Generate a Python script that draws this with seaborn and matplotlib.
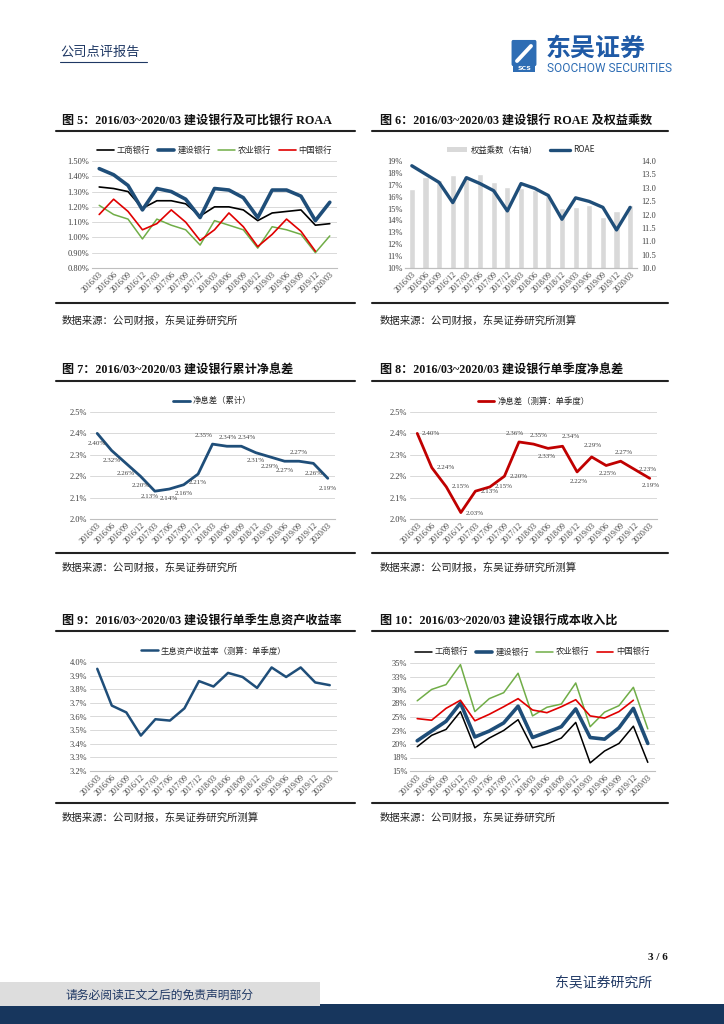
import numpy as np
import pandas as pd
import seaborn as sns
import matplotlib.pyplot as plt
from matplotlib.lines import Line2D
from matplotlib.patches import Rectangle, FancyBboxPatch

# ---- datos ----
quarters = ['2016/03', '2016/06', '2016/09', '2016/12', '2017/03', '2017/06', '2017/09', '2017/12',
            '2018/03', '2018/06', '2018/09', '2018/12', '2019/03', '2019/06', '2019/09', '2019/12', '2020/03']

# Fig 5: ROAA (%)
roaa_icbc = [1.33, 1.32, 1.30, 1.19, 1.24, 1.24, 1.22, 1.14, 1.20, 1.20, 1.18, 1.11, 1.16, 1.17, 1.18, 1.08, 1.09]
roaa_ccb = [1.45, 1.41, 1.34, 1.18, 1.32, 1.30, 1.25, 1.13, 1.32, 1.31, 1.26, 1.13, 1.31, 1.31, 1.27, 1.11, 1.23]
roaa_abc = [1.21, 1.15, 1.12, 0.99, 1.12, 1.08, 1.05, 0.95, 1.11, 1.08, 1.05, 0.93, 1.07, 1.05, 1.02, 0.90, 1.01]
roaa_boc = [1.15, 1.25, 1.17, 1.05, 1.09, 1.18, 1.10, 0.98, 1.05, 1.16, 1.07, 0.94, 1.02, 1.12, 1.04, 0.91, np.nan]

# Fig 6: ROAE (%) y multiplicador de capital (eje derecho)
roae = [18.6, 17.9, 17.2, 15.5, 17.6, 17.1, 16.5, 14.8, 17.1, 16.7, 16.1, 14.1, 15.9, 15.6, 15.1, 13.2, 15.1]
eq_mult = [12.95, 13.40, 13.30, 13.47, 13.45, 13.50, 13.20, 13.02, 13.00, 12.90, 12.70, 12.23, 12.27, 12.34, 11.92, 12.14, 12.34]

# Fig 7: margen neto acumulado (%)
nim_cum = [2.40, 2.32, 2.26, 2.20, 2.13, 2.14, 2.16, 2.21, 2.35, 2.34, 2.34, 2.31, 2.29, 2.27, 2.27, 2.26, 2.19]

# Fig 8: margen neto trimestral (%)
nim_q = [2.40, 2.24, 2.15, 2.03, 2.13, 2.15, 2.20, 2.36, 2.35, 2.33, 2.34, 2.22, 2.29, 2.25, 2.27, 2.23, 2.19]

# Fig 9: rendimiento de activos (%)
yield_q = [3.95, 3.68, 3.63, 3.46, 3.58, 3.57, 3.66, 3.86, 3.82, 3.92, 3.89, 3.81, 3.96, 3.89, 3.96, 3.85, 3.83]

# Fig 10: ratio costo/ingreso (%)
ci_icbc = [19.5, 21.6, 22.7, 26.0, 19.3, 21.1, 22.5, 24.5, 19.3, 20.0, 21.1, 24.0, 16.5, 18.7, 20.1, 23.3, 16.6]
ci_ccb = [20.6, 22.4, 24.2, 27.6, 21.3, 22.4, 23.9, 27.0, 21.2, 22.2, 23.2, 26.5, 21.2, 20.9, 23.0, 26.6, 20.1]
ci_abc = [28.0, 30.1, 31.0, 34.7, 26.0, 28.4, 29.5, 33.1, 25.2, 26.8, 27.4, 31.3, 23.2, 25.9, 27.1, 30.5, 22.8]
ci_boc = [24.7, 24.4, 26.6, 28.1, 24.3, 25.5, 26.9, 28.4, 26.3, 25.8, 26.9, 28.2, 25.2, 24.8, 26.0, 28.1, np.nan]
ci_ticks = [15, 17.5, 20, 22.5, 25, 27.5, 30, 32.5, 35]
ci_tick_labels = ['15%', '18%', '20%', '23%', '25%', '28%', '30%', '33%', '35%']

W, H = 724, 1024
NAVY = '#1F4E79'
GRID = '#D9D9D9'
SERIF = ['Liberation Serif', 'Noto Sans CJK SC']
SANS = ['Noto Sans CJK SC', 'DejaVu Sans']

sns.set_theme(style='white')
plt.rcParams['font.family'] = SERIF
plt.rcParams['axes.unicode_minus'] = False

fig = plt.figure(figsize=(W / 100, H / 100), dpi=100)
x = np.arange(len(quarters))


def caja(x0, y0, x1, y1):
    return [x0 / W, 1 - y1 / H, (x1 - x0) / W, (y1 - y0) / H]


def texto(px, py, s, **kw):
    fig.text(px / W, 1 - py / H, s, **kw)


def linea(x0, x1, y, color='#222222', lw=1.5):
    fig.add_artist(Line2D([x0 / W, x1 / W], [1 - y / H, 1 - y / H], transform=fig.transFigure,
                          color=color, lw=lw))


def preparar(ax, ylim, ticks, labels):
    ax.set_xlim(-0.5, len(quarters) - 0.5)
    ax.set_ylim(*ylim)
    ax.set_yticks(ticks)
    ax.set_yticklabels(labels, fontsize=6, color='#404040', family=SERIF)
    ax.set_xticks(x)
    ax.set_xticklabels(quarters, rotation=45, ha='right', rotation_mode='anchor',
                       fontsize=5.8, color='#404040', family=SERIF)
    ax.tick_params(axis='both', length=0, pad=2)
    for s in ['left', 'right', 'top']:
        ax.spines[s].set_visible(False)
    ax.spines['bottom'].set_color('#BFBFBF')
    ax.spines['bottom'].set_linewidth(0.8)
    ax.yaxis.grid(True, color=GRID, lw=0.7)
    ax.set_axisbelow(True)
    ax.set_xlabel('')
    ax.set_ylabel('')


def leyenda(ax, ncol=4):
    ax.legend(loc='lower center', bbox_to_anchor=(0.5, 1.03), ncol=ncol, frameon=False,
              prop={'family': SANS, 'size': 6}, handlelength=2.0, columnspacing=0.9,
              handletextpad=0.35, borderaxespad=0)


# ---- encabezado ----
texto(60, 52, '公司点评报告', fontsize=9.5, color='#1F3864', family=SANS, va='center')
linea(60, 147, 62, color='#1F3864', lw=0.8)
logo = FancyBboxPatch((513 / W, 1 - 64 / H), 22 / W, 22 / H, boxstyle='round,pad=0.002',
                      transform=fig.transFigure, fc='#2E6DB4', ec='none')
fig.add_artist(logo)
fig.add_artist(Line2D([517 / W, 531 / W], [1 - 61 / H, 1 - 46 / H], transform=fig.transFigure,
                      color='white', lw=2.8))
fig.add_artist(Rectangle((513 / W, 1 - 72 / H), 22 / W, 6 / H, transform=fig.transFigure,
                         fc='#2E6DB4', ec='none'))
texto(524, 69, 'SCS', fontsize=4.5, color='white', weight='bold', ha='center', va='center',
      family=['DejaVu Sans'])
texto(546, 49, '东吴证券', fontsize=18, color='#1F5AA6', weight='bold', family=SANS, va='center')
texto(547, 69, 'SOOCHOW SECURITIES', fontsize=8.6, color='#2E6DB4', family=['Roboto', 'DejaVu Sans'],
      va='center')

# ---- titulos, reglas y fuentes ----
titulos = [
    (62, 121, '图 5：2016/03~2020/03 建设银行及可比银行 ROAA'),
    (380, 121, '图 6：2016/03~2020/03 建设银行 ROAE 及权益乘数'),
    (62, 371, '图 7：2016/03~2020/03 建设银行累计净息差'),
    (380, 371, '图 8：2016/03~2020/03 建设银行单季度净息差'),
    (62, 621, '图 9：2016/03~2020/03 建设银行单季生息资产收益率'),
    (380, 621, '图 10：2016/03~2020/03 建设银行成本收入比'),
]
for tx, ty, t in titulos:
    texto(tx, ty, t, fontsize=8.7, weight='bold', color='#111111', family=SERIF, va='center')

for yt, yb in [(131, 303), (381, 553), (631, 803)]:
    linea(56, 355, yt)
    linea(372, 668, yt)
    linea(56, 355, yb)
    linea(372, 668, yb)

fuente = '数据来源：公司财报，东吴证券研究所'
fuentes = [(62, 321, fuente), (380, 321, fuente + '测算'),
           (62, 568, fuente), (380, 568, fuente + '测算'),
           (62, 818, fuente + '测算'), (380, 818, fuente)]
for tx, ty, t in fuentes:
    texto(tx, ty, t, fontsize=7.5, color='#222222', family=SANS, va='center')

# ---- Fig 5 ----
ax = fig.add_axes(caja(92, 161, 337, 268))
df5 = pd.DataFrame({'x': x, '工商银行': roaa_icbc, '建设银行': roaa_ccb, '农业银行': roaa_abc, '中国银行': roaa_boc})
sns.lineplot(data=df5, x='x', y='工商银行', ax=ax, color='black', lw=1.2, label='工商银行')
sns.lineplot(data=df5, x='x', y='建设银行', ax=ax, color=NAVY, lw=2.6, label='建设银行')
sns.lineplot(data=df5, x='x', y='农业银行', ax=ax, color='#70AD47', lw=1.1, label='农业银行')
sns.lineplot(data=df5, x='x', y='中国银行', ax=ax, color='#E00000', lw=1.2, label='中国银行')
t5 = np.round(np.arange(0.8, 1.501, 0.1), 2)
preparar(ax, (0.8, 1.5), t5, [f'{v:.2f}%' for v in t5])
leyenda(ax)

# ---- Fig 6 ----
axb = fig.add_axes(caja(405, 161, 637, 268))
sns.barplot(x=x, y=eq_mult, ax=axb, color='#D9D9D9', width=0.45, saturation=1)
axl = axb.twinx()
sns.lineplot(x=x, y=roae, ax=axl, color=NAVY, lw=2.4)
t6r = np.arange(10, 14.01, 0.5)
preparar(axb, (10, 14), t6r, [f'{v:.1f}' for v in t6r])
axb.yaxis.grid(False)
t6l = np.arange(10, 19.01, 1)
preparar(axl, (10, 19), t6l, [f'{v:.0f}%' for v in t6l])
axl.yaxis.grid(False)
axb.yaxis.tick_right()
axl.yaxis.tick_left()
axl.tick_params(axis='y', length=0, pad=2)
axb.tick_params(axis='y', length=0, pad=3)
hb = Rectangle((0, 0), 1, 1, fc='#D9D9D9', ec='none')
hl = Line2D([], [], color=NAVY, lw=2.4)
axl.legend([hb, hl], ['权益乘数（右轴）', 'ROAE'], loc='lower center', bbox_to_anchor=(0.5, 1.03),
           ncol=2, frameon=False, prop={'family': SANS, 'size': 6}, handlelength=2.4,
           columnspacing=1.5, handletextpad=0.4, borderaxespad=0)

# ---- Fig 7 ----
ax = fig.add_axes(caja(90, 412, 335, 519))
sns.lineplot(x=x, y=nim_cum, ax=ax, color=NAVY, lw=2.0, label='净息差（累计）')
t7 = np.round(np.arange(2.0, 2.501, 0.1), 1)
preparar(ax, (2.0, 2.5), t7, [f'{v:.1f}%' for v in t7])
leyenda(ax, ncol=1)
off7 = [(0, -7), (0, -7), (0, -7), (0, -7), (-4, -4), (0, -7), (0, -6), (0, -6), (-6, 6), (1, 6),
        (4, 6), (0, -6), (0, -7), (0, -7), (0, 6), (0, -7), (0, -7)]
for i, v in enumerate(nim_cum):
    ax.annotate(f'{v:.2f}%', (i, v), xytext=off7[i], textcoords='offset points',
                ha='center', va='center', fontsize=5.0, color='#404040', family=SERIF)

# ---- Fig 8 ----
ax = fig.add_axes(caja(410, 412, 657, 519))
sns.lineplot(x=x, y=nim_q, ax=ax, color='#C00000', lw=2.0, label='净息差（测算：单季度）')
preparar(ax, (2.0, 2.5), t7, [f'{v:.1f}%' for v in t7])
leyenda(ax, ncol=1)
off8 = [(10, 0), (10, 0), (10, 0), (10, -1), (10, 0), (10, 0), (10, 0), (-3, 6), (4, 6), (-1, -6),
        (6, 7), (1, -7), (1, 8), (1, -6), (2, 6), (9, 0), (1, -5)]
for i, v in enumerate(nim_q):
    ax.annotate(f'{v:.2f}%', (i, v), xytext=off8[i], textcoords='offset points',
                ha='center', va='center', fontsize=5.0, color='#404040', family=SERIF)

# ---- Fig 9 ----
ax = fig.add_axes(caja(90, 662, 337, 771))
sns.lineplot(x=x, y=yield_q, ax=ax, color=NAVY, lw=1.8, label='生息资产收益率（测算：单季度）')
t9 = np.round(np.arange(3.2, 4.001, 0.1), 1)
preparar(ax, (3.2, 4.0), t9, [f'{v:.1f}%' for v in t9])
leyenda(ax, ncol=1)

# ---- Fig 10 ----
ax = fig.add_axes(caja(410, 663, 655, 771))
df10 = pd.DataFrame({'x': x, 'a': ci_icbc, 'b': ci_ccb, 'c': ci_abc, 'd': ci_boc})
sns.lineplot(data=df10, x='x', y='a', ax=ax, color='black', lw=1.1, label='工商银行')
sns.lineplot(data=df10, x='x', y='b', ax=ax, color=NAVY, lw=2.6, label='建设银行')
sns.lineplot(data=df10, x='x', y='c', ax=ax, color='#70AD47', lw=1.1, label='农业银行')
sns.lineplot(data=df10, x='x', y='d', ax=ax, color='#E00000', lw=1.2, label='中国银行')
preparar(ax, (15, 35), ci_ticks, ci_tick_labels)
leyenda(ax)

# ---- pie de pagina ----
texto(668, 958, '3 / 6', fontsize=8, weight='bold', color='#111111', ha='right', va='center',
      family=SERIF)
texto(652, 983, '东吴证券研究所', fontsize=10, color='#1F3864', ha='right', va='center', family=SANS)
fig.add_artist(Rectangle((0, 0), 1, 20 / H, transform=fig.transFigure, fc='#17365D', ec='none'))
fig.add_artist(Rectangle((0, 1 - 1006 / H), 320 / W, 24 / H, transform=fig.transFigure,
                         fc='#DDDDDD', ec='none'))
texto(160, 995, '请务必阅读正文之后的免责声明部分', fontsize=8.5, color='#1F3864', ha='center',
      va='center', family=SANS)

fig.savefig('out.png', dpi=100)
plt.close(fig)
